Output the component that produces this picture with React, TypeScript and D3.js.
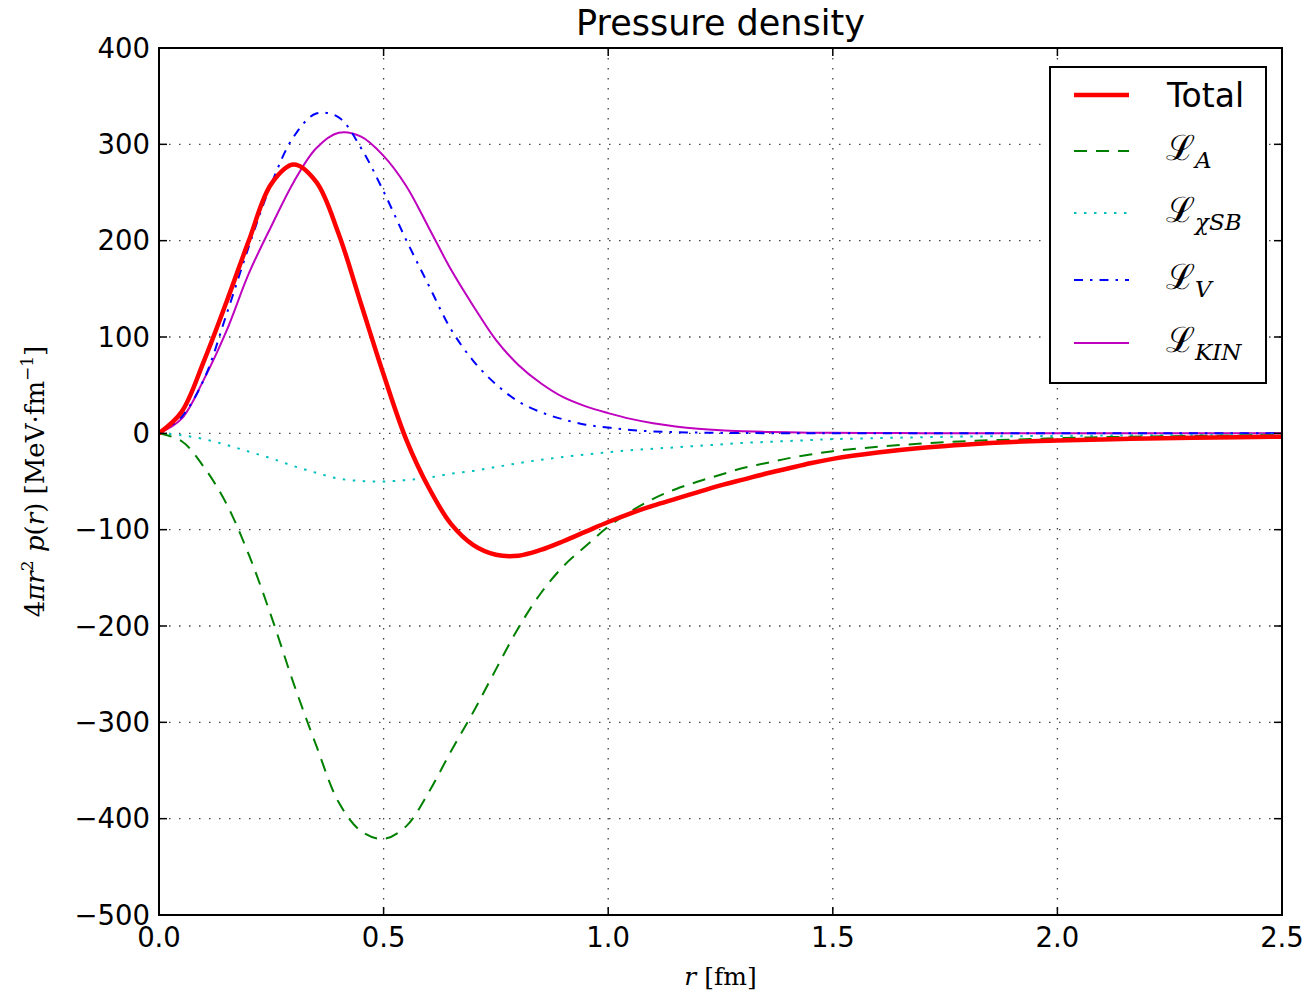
import React from "react";
import * as d3 from "d3";

// radius in fm
const rValues = [
  0, 0.05, 0.1, 0.15, 0.2, 0.25, 0.3, 0.35, 0.4, 0.45, 0.5, 0.55, 0.6, 0.65, 0.7, 0.75, 0.8, 0.85, 0.9, 0.95,
  1.0, 1.05, 1.1, 1.15, 1.2, 1.25, 1.3, 1.35, 1.4, 1.45, 1.5, 1.6, 1.7, 1.8, 1.9, 2.0, 2.1, 2.2, 2.3, 2.4, 2.5,
];

const total = [
  0, 22, 75, 136, 200, 259, 279, 261, 207, 134, 61, -6, -56, -94, -116, -126, -127, -121, -112, -102,
  -92, -83, -75, -68, -61, -54, -48, -42, -36.5, -31, -26.5, -20, -15, -11.5, -9, -7.5, -6.3, -5.4, -4.7, -4, -3.5,
];

const lagA = [
  0, -8, -35, -73, -126, -190, -260, -324, -383, -413, -421, -408, -373, -330, -289, -245, -202, -166, -138, -117,
  -97, -81, -68, -58, -50, -43, -36, -31, -26, -22, -18.5, -14, -10.5, -8, -6.5, -5, -4, -3.3, -2.7, -2.2, -1.8,
];

const lagChiSB = [
  0, -2, -6, -12, -19, -26, -34, -41, -47, -49.5, -50, -48.5, -46, -42, -39, -35, -31, -27.5, -24.5, -22,
  -19.5, -17.5, -16, -14.5, -13, -11.5, -10, -9, -8, -7, -6, -5, -4, -3.3, -3, -2.7, -2.3, -2, -1.7, -1.4, -1.2,
];

const lagV = [
  0, 17, 56, 123, 194, 259, 308, 332, 328, 296, 251, 201, 154, 108, 75, 51, 33, 22, 14.5, 9,
  6, 3.5, 2, 1.2, 0.8, 0.5, 0.3, 0.2, 0.1, 0, 0, 0, 0, 0, 0, 0, 0, 0, 0, 0, 0,
];

const lagKin = [
  0, 15, 56, 106, 166, 215, 261, 296, 312, 308, 288, 257, 214, 170, 132, 97, 71, 52, 37.5, 28,
  21, 15, 10.5, 7.2, 4.8, 3.2, 2.2, 1.5, 1, 0.7, 0.5, 0.3, 0.2, 0.1, 0.1, 0, 0, 0, 0, 0, 0,
];

const xTicks = [0, 0.5, 1.0, 1.5, 2.0, 2.5];
const yTicks = [400, 300, 200, 100, 0, -100, -200, -300, -400, -500];

const series = [
  { key: "Total", values: total, color: "#ff0000", width: 4.5, dash: "none" },
  { key: "A", values: lagA, color: "#008000", width: 2, dash: "13,9" },
  { key: "χSB", values: lagChiSB, color: "#00bfbf", width: 2, dash: "2.5,7.5" },
  { key: "V", values: lagV, color: "#0000ff", width: 2, dash: "9,7,2.5,7" },
  { key: "KIN", values: lagKin, color: "#bf00bf", width: 2, dash: "none" },
];

const W = 1309;
const H = 996;
const margin = { top: 48, right: 27, bottom: 81, left: 159 };

export default function App() {
  const x = d3.scaleLinear().domain([0, 2.5]).range([margin.left, W - margin.right]);
  const y = d3.scaleLinear().domain([-500, 400]).range([H - margin.bottom, margin.top]);
  const x0 = x(0), x1 = x(2.5), y0 = y(400), y1 = y(-500);
  const tickLen = 8;
  const fmtX = d3.format(".1f");
  const fmtY = (v: number) => (v < 0 ? "\u2212" + Math.abs(v) : String(v));

  const makeLine = (vals: number[]) =>
    d3
      .line<number>()
      .x((_, i) => x(rValues[i]))
      .y((d) => y(d))
      .curve(d3.curveCatmullRom.alpha(0.5))(vals) || "";

  const legendX = 1050, legendY = 67, legendW = 216, legendH = 316;
  const rowY = [95, 151, 213, 280, 343];

  return (
    <div style={{ position: "absolute", left: 0, top: 0 }}>
      <svg width={W} height={H} style={{ display: "block", background: "#fff" }} fontFamily="DejaVu Sans">
        <defs>
          <clipPath id="plotArea">
            <rect x={x0} y={y0} width={x1 - x0} height={y1 - y0} />
          </clipPath>
        </defs>

        {/* grid */}
        <g stroke="#444" strokeWidth={1.3} strokeDasharray="1.5,8.5">
          {xTicks.slice(1, -1).map((t) => (
            <line key={"gx" + t} x1={x(t)} x2={x(t)} y1={y0} y2={y1} />
          ))}
          {yTicks.slice(1, -1).map((t) => (
            <line key={"gy" + t} x1={x0} x2={x1} y1={y(t)} y2={y(t)} />
          ))}
        </g>

        {/* curves */}
        <g clipPath="url(#plotArea)" fill="none">
          {series
            .slice()
            .reverse()
            .map((s) => (
              <path
                key={s.key}
                d={makeLine(s.values)}
                stroke={s.color}
                strokeWidth={s.width}
                strokeDasharray={s.dash}
                strokeLinejoin="round"
              />
            ))}
        </g>

        {/* ticks, inward on every side */}
        <g stroke="#000" strokeWidth={1.5}>
          {xTicks.map((t) => (
            <g key={"tx" + t}>
              <line x1={x(t)} x2={x(t)} y1={y1} y2={y1 - tickLen} />
              <line x1={x(t)} x2={x(t)} y1={y0} y2={y0 + tickLen} />
            </g>
          ))}
          {yTicks.map((t) => (
            <g key={"ty" + t}>
              <line x1={x0} x2={x0 + tickLen} y1={y(t)} y2={y(t)} />
              <line x1={x1} x2={x1 - tickLen} y1={y(t)} y2={y(t)} />
            </g>
          ))}
        </g>

        {/* frame */}
        <rect x={x0} y={y0} width={x1 - x0} height={y1 - y0} fill="none" stroke="#000" strokeWidth={2} />

        {/* tick labels */}
        <g fontSize={27.5} fill="#000">
          {xTicks.map((t) => (
            <text key={"lx" + t} x={x(t)} y={947} textAnchor="middle">
              {fmtX(t)}
            </text>
          ))}
          {yTicks.map((t) => (
            <text key={"ly" + t} x={x0 - 9} y={y(t) + 9.5} textAnchor="end">
              {fmtY(t)}
            </text>
          ))}
        </g>

        {/* title */}
        <text x={(x0 + x1) / 2} y={35} fontSize={35} textAnchor="middle">
          Pressure density
        </text>

        {/* axis labels */}
        <text x={(x0 + x1) / 2} y={985} fontSize={25} textAnchor="middle" fontFamily="DejaVu Serif">
          <tspan fontStyle="italic">r</tspan>
          <tspan> [fm]</tspan>
        </text>
        <text
          transform={`translate(44,${(y0 + y1) / 2}) rotate(-90)`}
          fontSize={26}
          textAnchor="middle"
          fontFamily="DejaVu Serif"
        >
          <tspan>4</tspan>
          <tspan fontStyle="italic">πr</tspan>
          <tspan fontSize={17} dy={-11}>2</tspan>
          <tspan dy={11} fontStyle="italic"> p</tspan>
          <tspan>(</tspan>
          <tspan fontStyle="italic">r</tspan>
          <tspan>)  [MeV·fm</tspan>
          <tspan fontSize={17} dy={-11}>−1</tspan>
          <tspan dy={11}>]</tspan>
        </text>

        {/* legend */}
        <rect x={legendX} y={legendY} width={legendW} height={legendH} fill="#fff" stroke="#000" strokeWidth={2} />
        {series.map((s, i) => (
          <g key={"lg" + s.key}>
            <line
              x1={1074}
              x2={1129}
              y1={rowY[i]}
              y2={rowY[i]}
              stroke={s.color}
              strokeWidth={s.width}
              strokeDasharray={s.dash}
            />
            {s.key === "Total" ? (
              <text x={1167} y={rowY[i] + 12} fontSize={33}>
                Total
              </text>
            ) : (
              <text x={1166} y={rowY[i] + 9} fontSize={35} fontFamily="DejaVu Serif">
                <tspan>ℒ</tspan>
                <tspan fontSize={23} fontStyle="italic" dy={8}>
                  {s.key}
                </tspan>
              </text>
            )}
          </g>
        ))}
      </svg>
    </div>
  );
}
